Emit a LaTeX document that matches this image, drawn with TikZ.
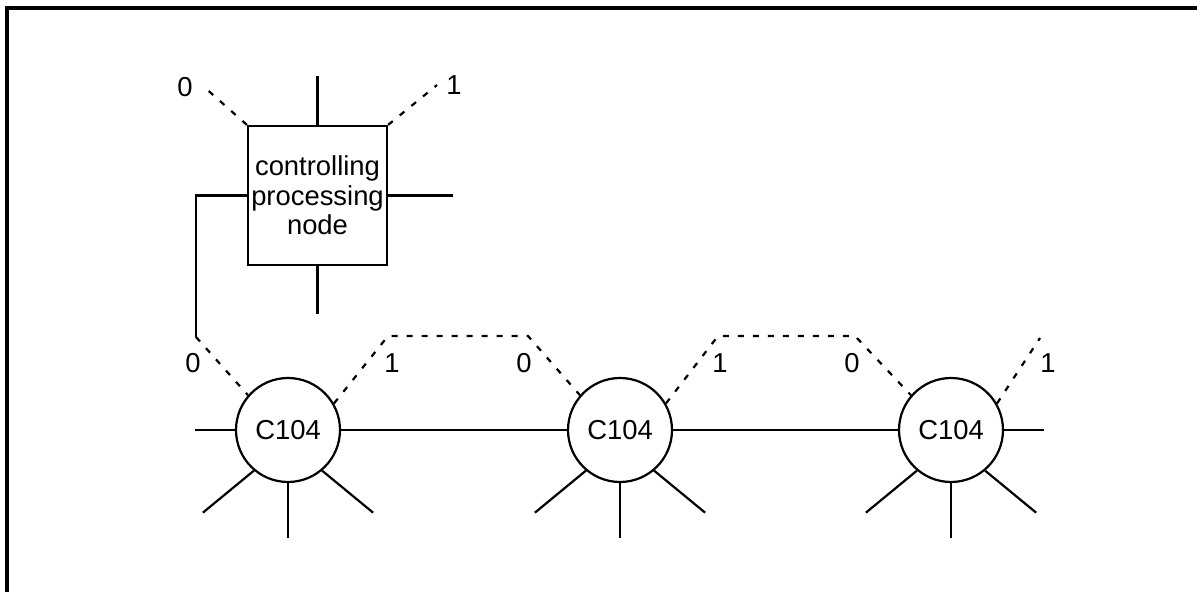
\documentclass[tikz,border=0pt]{standalone}
\usepackage{fontspec}
\setmainfont{Liberation Sans}
\tikzset{%
  % Specifications for style of nodes and links:
        ctrlbox/.style = {rectangle, draw=black, line width=1.1pt,
                          minimum width=69.5pt, minimum height=69.5pt,
                          inner sep=0pt, align=center},
           cell/.style = {circle, draw=black, line width=1.1pt,
                          minimum size=52pt, inner sep=0pt},
           link/.style = {line width=1.1pt},
          dlink/.style = {line width=1.1pt, dash pattern=on 3pt off 4.5pt},
            bit/.style = {inner sep=0pt},
}
\begin{document}
\begin{tikzpicture}[x=0.5pt, y=-0.5pt,
    every node/.style={font=\fontsize{13.7}{14.75}\selectfont}]

  \useasboundingbox (0,0) rectangle (1197,592);
  \draw[line width=1.6pt] (7,592) -- (7,8) -- (1197,8);

  \node (ctrl) [ctrlbox] at (317.5,195.5) {controlling\\processing\\node};
  \node (c1)   [cell]    at (288,430)     {C104};
  \node (c2)   [cell]    at (620,430)     {C104};
  \node (c3)   [cell]    at (951,430)     {C104};

  \coordinate (tl)   at (203,86);
  \coordinate (tr)   at (437,85);
  \coordinate (drop) at (196,337);
  \coordinate (a1)   at (388,336);
  \coordinate (a2)   at (528,336);
  \coordinate (b1)   at (718,336);
  \coordinate (b2)   at (855,336);
  \coordinate (tail) at (1040,338);

  \node (bit-tl) [bit] at (185,87)  {0};
  \node (bit-tr) [bit] at (454,85)  {1};
  \node (bit-1l) [bit] at (193,363) {0};
  \node (bit-1r) [bit] at (392,363) {1};
  \node (bit-2l) [bit] at (524,363) {0};
  \node (bit-2r) [bit] at (720,363) {1};
  \node (bit-3l) [bit] at (852,363) {0};
  \node (bit-3r) [bit] at (1048,363) {1};

  % controlling node
  \draw[link] (ctrl.north) -- ++(0,-49);
  \draw[link] (ctrl.south) -- ++(0,48);
  \draw[link] (ctrl.east)  -- ++(65,0);
  \draw[link] (ctrl.west)  -| (drop);
  \draw[dlink] (ctrl.north west) -- (tl);
  \draw[dlink] (ctrl.north east) -- (tr);

  % row of cells
  \draw[link] (c1.west) -- ++(-40,0);
  \draw[link] (c1.east) -- (c2.west);
  \draw[link] (c2.east) -- (c3.west);
  \draw[link] (c3.east) -- ++(40,0);

  \draw[link] (c1.south) -- ++(0,55);
  \draw[link] (c1.230)   -- ++(-51,42);
  \draw[link] (c1.310)   -- ++(51,42);
  \draw[link] (c2.south) -- ++(0,55);
  \draw[link] (c2.230)   -- ++(-51,42);
  \draw[link] (c2.310)   -- ++(51,42);
  \draw[link] (c3.south) -- ++(0,55);
  \draw[link] (c3.230)   -- ++(-51,42);
  \draw[link] (c3.310)   -- ++(51,42);

  \draw[dlink] (drop)  -- (c1.139);
  \draw[dlink] (c1.30) -- (a1) -- (a2) -- (c2.139);
  \draw[dlink] (c2.30) -- (b1) -- (b2) -- (c3.139);
  \draw[dlink] (c3.30) -- (tail);

\end{tikzpicture}
\end{document}
